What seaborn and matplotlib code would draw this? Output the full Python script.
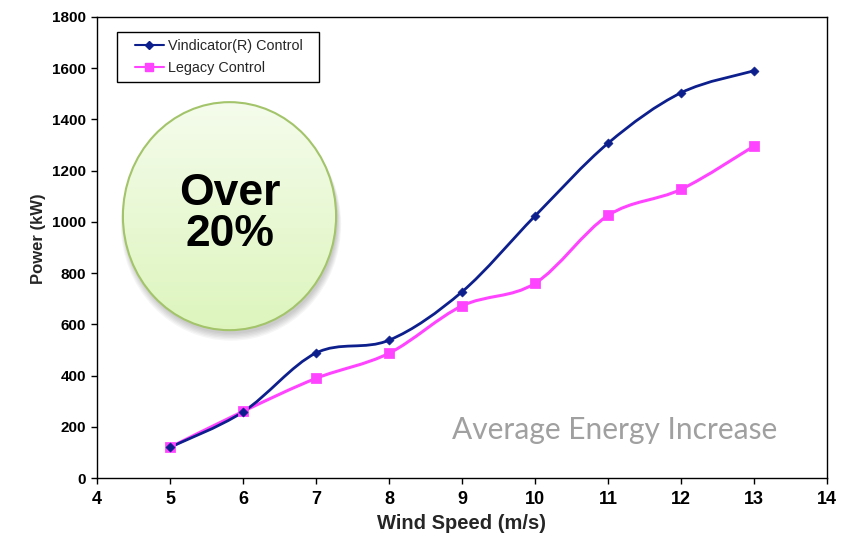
import numpy as np
import pandas as pd
import matplotlib
matplotlib.use("Agg")
import matplotlib.pyplot as plt
import seaborn as sns
from matplotlib.path import Path
from matplotlib.patches import PathPatch, Ellipse, Rectangle
from matplotlib.lines import Line2D

# data
wind_speed = [5, 6, 7, 8, 9, 10, 11, 12, 13]
vindicator = [120, 258, 488, 538, 727, 1023, 1307, 1504, 1590]
legacy = [120, 260, 389, 487, 672, 760, 1025, 1127, 1296]

df = pd.DataFrame({"Wind Speed": wind_speed,
                   "Vindicator(R) Control": vindicator,
                   "Legacy Control": legacy})

sns.set_style("white")
plt.rcParams["font.family"] = ["Liberation Sans", "DejaVu Sans"]

fig = plt.figure(figsize=(8.53, 5.38), dpi=100)
ax = fig.add_axes([97 / 853, 1 - 478 / 538, 730 / 853, 461 / 538])

navy = "#0d1f8c"
magenta = "#ff44ff"


def smooth_path(xs, ys):
    # excel-style smoothed line: cubic bezier through every point
    pts = np.column_stack([xs, ys]).astype(float)
    verts = [pts[0]]
    codes = [Path.MOVETO]
    n = len(pts)
    for i in range(n - 1):
        p0 = pts[i - 1] if i > 0 else pts[i]
        p1, p2 = pts[i], pts[i + 1]
        p3 = pts[i + 2] if i + 2 < n else pts[i + 1]
        c1 = p1 + (p2 - p0) / 6
        c2 = p2 - (p3 - p1) / 6
        verts += [c1, c2, p2]
        codes += [Path.CURVE4] * 3
    return Path(verts, codes)


for col, color, lw in [("Legacy Control", magenta, 2.2),
                       ("Vindicator(R) Control", navy, 2.0)]:
    ax.add_patch(PathPatch(smooth_path(df["Wind Speed"], df[col]),
                           facecolor="none", edgecolor=color, lw=lw, zorder=3))

sns.scatterplot(data=df, x="Wind Speed", y="Legacy Control", marker="s",
                s=45, color=magenta, edgecolor=magenta, ax=ax, zorder=4)
sns.scatterplot(data=df, x="Wind Speed", y="Vindicator(R) Control", marker="D",
                s=22, color=navy, edgecolor=navy, ax=ax, zorder=5)

ax.set_xlim(4, 14)
ax.set_ylim(0, 1800)
ax.set_xticks(range(4, 15))
ax.set_yticks(range(0, 1801, 200))
for s in ax.spines.values():
    s.set_color("black")
    s.set_linewidth(1.0)
ax.tick_params(direction="out", length=4, width=1, colors="black",
               bottom=True, left=True, pad=4)
ax.tick_params(axis="x", labelsize=13, pad=5)
ax.tick_params(axis="y", labelsize=11)
for lab in ax.get_xticklabels() + ax.get_yticklabels():
    lab.set_fontweight("bold")
ax.set_xlabel("Wind Speed (m/s)", fontsize=14.5, fontweight="bold")
ax.set_ylabel("Power (kW)", fontsize=12, fontweight="bold")
ax.xaxis.set_label_coords(0.5, -0.078)
ax.yaxis.set_label_coords(-0.07, 0.52)

# legend box drawn separately so it can be wider than its entries
ax.add_patch(Rectangle((0.0274, 0.859), 0.2767, 0.1085, transform=ax.transAxes,
                       facecolor="white", edgecolor="black", lw=1.0, zorder=10))
handles = [Line2D([], [], color=navy, lw=1.5, marker="D", markersize=4.5),
           Line2D([], [], color=magenta, lw=1.5, marker="s", markersize=6)]
leg = ax.legend(handles, ["Vindicator(R) Control", "Legacy Control"],
                loc="upper left", bbox_to_anchor=(0.052, 0.953), fontsize=10.4,
                frameon=False, borderpad=0, handlelength=2.0,
                handletextpad=0.3, labelspacing=0.6, borderaxespad=0)
leg.set_zorder(11)

# green "Over 20%" bubble with soft shadow and vertical gradient
cx, cy, w, h = 0.1815, 0.568, 0.292, 0.4946
for k in range(6):
    ax.add_patch(Ellipse((cx + 0.002, cy - 0.008 - 0.002 * k), w + 0.002 * k,
                         h + 0.002 * k, transform=ax.transAxes,
                         facecolor="black", alpha=0.035, edgecolor="none",
                         zorder=6))
grad = np.linspace(0, 1, 256).reshape(-1, 1)
cmap = matplotlib.colors.LinearSegmentedColormap.from_list(
    "bubble", ["#ddf5bd", "#f5fcec"])
im = ax.imshow(grad, cmap=cmap, aspect="auto", transform=ax.transAxes,
               extent=(cx - w / 2, cx + w / 2, cy + h / 2, cy - h / 2),
               zorder=7)
clip = Ellipse((cx, cy), w, h, transform=ax.transAxes, facecolor="none",
               edgecolor="none")
ax.add_patch(clip)
im.set_clip_path(clip)
ax.add_patch(Ellipse((cx, cy), w, h, transform=ax.transAxes, facecolor="none",
                     edgecolor="#a3c46a", lw=1.5, zorder=8))
ax.text(cx, cy + 0.005, "Over\n20%", transform=ax.transAxes, ha="center",
        va="center", fontsize=32, fontweight="bold", color="black",
        linespacing=1.0, zorder=9)

ax.text(0.9315, 0.104, "Average Energy Increase", transform=ax.transAxes,
        ha="right", va="center", fontsize=21.5, color="#a0a0a0",
        family=["Lato", "DejaVu Sans"], zorder=9)

fig.savefig("out.png", dpi=100)
